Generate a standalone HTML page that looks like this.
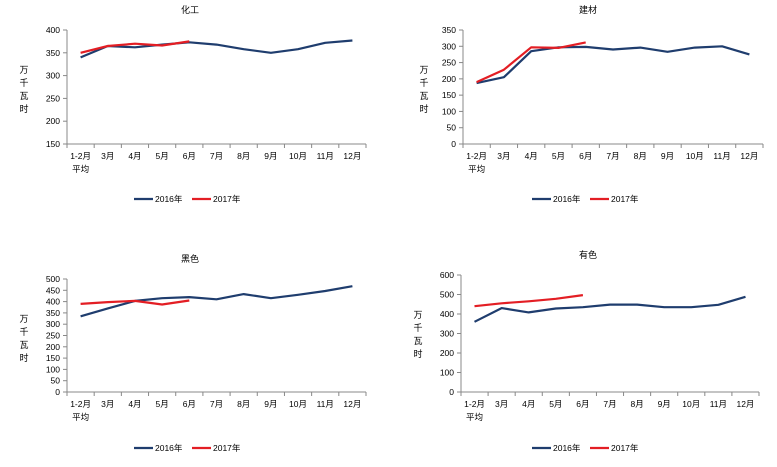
<!DOCTYPE html>
<html><head><meta charset="utf-8"><style>
body{margin:0;background:#fff;width:777px;height:462px;overflow:hidden}
svg{font-family:"Liberation Sans","Noto Sans CJK SC",sans-serif}
</style></head><body>
<svg id="s" width="777" height="462" xmlns="http://www.w3.org/2000/svg"></svg>
<script>
const s=document.getElementById('s');let h='';
const cats=['1-2月','3月','4月','5月','6月','7月','8月','9月','10月','11月','12月'];
function chart(o){
 const {L,R,T,B,min,max,step,title,tx,a,b,ly,ytx}=o;
 const w=(R-L)/11;
 h+=`<text x="${tx}" y="${T-17}" font-size="9" text-anchor="middle">${title}</text>`;
 h+=`<line x1="${L}" y1="${T}" x2="${L}" y2="${B}" stroke="#888" stroke-width="1"/>`;
 h+=`<line x1="${L}" y1="${B}" x2="${R}" y2="${B}" stroke="#888" stroke-width="1"/>`;
 for(let v=min;v<=max;v+=step){const y=B-(v-min)/(max-min)*(B-T);
  h+=`<line x1="${L-4}" y1="${y}" x2="${L}" y2="${y}" stroke="#888"/>`;
  h+=`<text x="${L-7}" y="${y+3}" font-size="8.5" text-anchor="end">${v}</text>`;}
 for(let i=0;i<=11;i++){const x=L+i*w;h+=`<line x1="${x}" y1="${B}" x2="${x}" y2="${B+4}" stroke="#888"/>`;}
 cats.forEach((c,i)=>{h+=`<text x="${L+(i+0.5)*w}" y="${B+15}" font-size="8.5" text-anchor="middle">${c}</text>`;});
 h+=`<text x="${L+0.5*w}" y="${B+28}" font-size="8.5" text-anchor="middle">平均</text>`;
 ['万','千','瓦','时'].forEach((c,i)=>h+=`<text x="${ytx}" y="${T+43+i*13}" font-size="9" text-anchor="middle">${c}</text>`);
 const pts=d=>d.map((v,i)=>`${(L+(i+0.5)*w).toFixed(1)},${(B-(v-min)/(max-min)*(B-T)).toFixed(1)}`).join(' ');
 h+=`<polyline points="${pts(a)}" fill="none" stroke="#1f3d6e" stroke-width="2.2" stroke-linejoin="round"/>`;
 h+=`<polyline points="${pts(b)}" fill="none" stroke="#e31e24" stroke-width="2.2" stroke-linejoin="round"/>`;
 const lx=tx-56;
 h+=`<line x1="${lx}" y1="${ly}" x2="${lx+19}" y2="${ly}" stroke="#1f3d6e" stroke-width="2.2"/>`;
 h+=`<text x="${lx+21}" y="${ly+3}" font-size="8.5">2016年</text>`;
 h+=`<line x1="${lx+58}" y1="${ly}" x2="${lx+77}" y2="${ly}" stroke="#e31e24" stroke-width="2.2"/>`;
 h+=`<text x="${lx+79}" y="${ly+3}" font-size="8.5">2017年</text>`;
}
chart({L:67,R:366,T:30,B:144,min:150,max:400,step:50,title:'化工',tx:190,ly:199,ytx:24,
 a:[340,365,362,368,373,368,358,350,358,372,377],b:[350,365,370,366,375]});
chart({L:463,R:763,T:30,B:144,min:0,max:350,step:50,title:'建材',tx:588,ly:199,ytx:424,
 a:[187,205,285,297,298,290,296,283,296,300,275],b:[190,228,297,295,312]});
chart({L:67,R:366,T:279,B:392,min:0,max:500,step:50,title:'黑色',tx:190,ly:448,ytx:24,
 a:[335,370,403,415,420,410,433,415,430,447,468],b:[390,398,403,387,405]});
chart({L:461,R:759,T:275,B:392,min:0,max:600,step:100,title:'有色',tx:588,ly:448,ytx:418,
 a:[360,430,408,428,435,448,448,435,435,447,488],b:[440,455,465,478,497]});
s.innerHTML=h;
</script>
</body></html>
